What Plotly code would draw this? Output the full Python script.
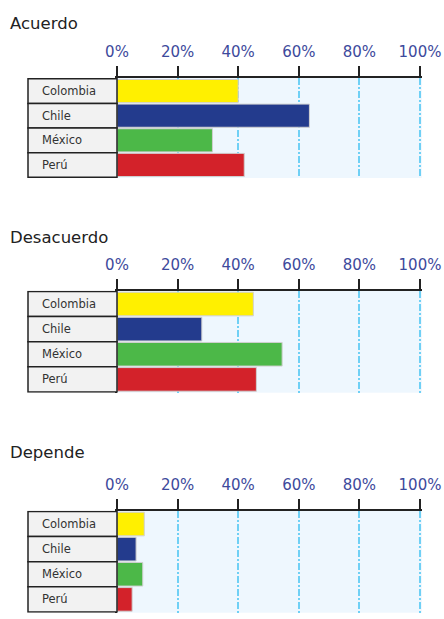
import plotly.graph_objects as go

categories = ["Colombia", "Chile", "México", "Perú"]
panel_titles = ["Acuerdo", "Desacuerdo", "Depende"]
acuerdo = [40, 63.5, 31.5, 42]
desacuerdo = [45, 28, 54.5, 46]
depende = [9, 6.3, 8.5, 5]
series = [acuerdo, desacuerdo, depende]
bar_colors = ["#fff000", "#233b8d", "#4cb848", "#d3222a"]
tick_vals = [0, 20, 40, 60, 80, 100]
tick_text = ["0%", "20%", "40%", "60%", "80%", "100%"]

W, H = 444, 619
x_left_px, x_right_px = 117, 420
x_max = 100.6
box_left_px = 28
label_left_px = 40
panels_px = [(78, 178), (290.7, 392.7), (510.7, 612.7)]
title_y_px = [23, 237, 452]

fig = go.Figure()
FONT = "DejaVu Sans"

px_per_unit = (x_right_px - x_left_px) / 100
plot_w = px_per_unit * x_max
xdom = [x_left_px / W, (x_left_px + plot_w) / W]

for i, (vals, title) in enumerate(zip(series, panel_titles)):
    n = i + 1
    xa = "x" if n == 1 else f"x{n}"
    ya = "y" if n == 1 else f"y{n}"
    fig.add_trace(go.Bar(
        x=vals, y=categories, orientation="h",
        marker=dict(color=bar_colors, line=dict(color="#d0d0d0", width=1)),
        xaxis=xa, yaxis=ya, showlegend=False, hoverinfo="x+y",
    ))
    top, bot = panels_px[i]
    ydom = [1 - bot / H, 1 - top / H]
    xkey = "xaxis" if n == 1 else f"xaxis{n}"
    ykey = "yaxis" if n == 1 else f"yaxis{n}"
    fig.update_layout(**{
        xkey: dict(
            domain=xdom, anchor=ya, side="top", range=[0, x_max],
            tickvals=tick_vals, ticktext=tick_text,
            tickfont=dict(family=FONT, size=15, color="#3d4a9c"),
            ticks="outside", ticklen=10, tickwidth=1.5, tickcolor="#222",
            showline=True, linecolor="#222", linewidth=1.5,
            showgrid=True, gridcolor="#6fd0f5", gridwidth=1.6,
            griddash="7px,2px,2px,2px",
            zeroline=False, ticklabelstandoff=3, fixedrange=True,
            automargin=False,
        ),
        ykey: dict(
            domain=ydom, anchor=xa, autorange="reversed",
            showticklabels=False, showgrid=False, zeroline=False,
            showline=True, linecolor="#222", linewidth=1.5, fixedrange=True,
            automargin=False,
        ),
    })
    # label boxes
    for k, cat in enumerate(categories):
        fig.add_shape(type="rect", xref=f"{xa} domain", yref=ya,
                      x0=(box_left_px - x_left_px) / plot_w, x1=0,
                      y0=k - 0.5, y1=k + 0.5,
                      fillcolor="#f2f2f2", line=dict(color="#222", width=1.5),
                      layer="above")
        fig.add_annotation(text=cat, xref=f"{xa} domain", yref=ya,
                           x=(label_left_px - x_left_px) / plot_w, y=k,
                           xanchor="left", yanchor="middle", showarrow=False,
                           font=dict(family=FONT, size=11.5, color="#333"))
    fig.add_annotation(text=title, xref="paper", yref="paper",
                       x=8 / W, y=1 - title_y_px[i] / H,
                       xanchor="left", yanchor="middle", showarrow=False,
                       font=dict(family=FONT, size=16.5, color="#222"))

fig.update_layout(
    width=W, height=H, margin=dict(l=0, r=0, t=0, b=0, autoexpand=False),
    paper_bgcolor="white", plot_bgcolor="#eef7fe",
    bargap=0.06, autosize=False,
)

fig.write_html(
    "out.html",
    config={"responsive": False, "displayModeBar": False},
    post_script="document.body.style.margin='0';document.body.style.overflow='hidden';",
)
